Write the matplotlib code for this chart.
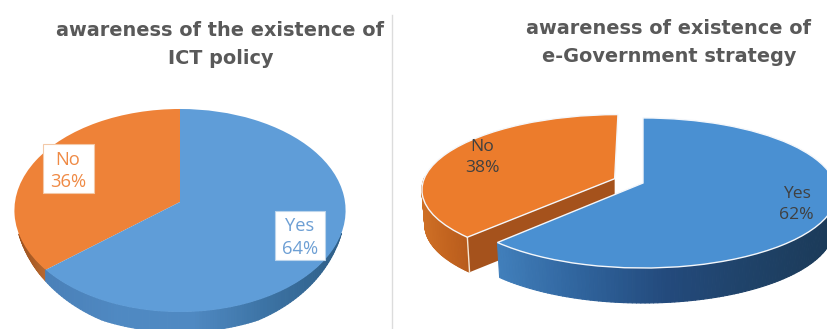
import numpy as np
import matplotlib
matplotlib.use("Agg")
import matplotlib.pyplot as plt
from matplotlib.transforms import Transform
from matplotlib.collections import PolyCollection
from matplotlib.colors import LinearSegmentedColormap
from matplotlib.lines import Line2D
from matplotlib.patches import Rectangle

categories = ["Yes", "No"]
ict_values = [64, 36]
egov_values = [62, 38]
ict_title = "awareness of the existence of\nICT policy"
egov_title = "awareness of existence of\ne-Government strategy"

plt.rcParams["font.family"] = ["Open Sans", "DejaVu Sans"]


class Tilt(Transform):
    """Projects a unit-radius pie lying on a tilted plane to pixel coordinates."""
    input_dims = 2
    output_dims = 2
    is_separable = False
    has_inverse = False

    def __init__(self, cx, cy, rx, ry, persp):
        super().__init__()
        self.p = (cx, cy, rx, ry, persp)

    def transform_non_affine(self, values):
        cx, cy, rx, ry, b = self.p
        v = np.asarray(values, float)
        w = 1 + b * v[:, 1]
        return np.column_stack([cx + rx * v[:, 0] / w, cy - ry * v[:, 1] / w])


def draw_pie(ax, values, colors, tilt, depth, shrink, taper, explode, wall_maps, z_base, cut_colors=None, edge=None):
    wedges, _ = ax.pie(values, startangle=90, counterclock=False, radius=1,
                       explode=explode, colors=colors, frame=True)
    for i, w in enumerate(wedges):
        w.set_transform(tilt + ax.transData)
        w.set_zorder(z_base[i] + 0.5)
        if edge:
            w.set_edgecolor(edge)
            w.set_linewidth(1.0)
        else:
            w.set_edgecolor("none")
        th_all = np.radians(np.linspace(w.theta1, w.theta2, 200))
        cx0, cy0 = w.center
        c = tilt.transform(np.array([[cx0, cy0]]))[0]
        ends = tilt.transform(np.column_stack([cx0 + w.r * np.cos(th_all[[0, -1]]),
                                               cy0 + w.r * np.sin(th_all[[0, -1]])]))
        th = th_all[np.sin(th_all) <= (-0.3 if taper else 0.03)]
        pts = tilt.transform(np.column_stack([cx0 + w.r * np.cos(th), cy0 + w.r * np.sin(th)]))
        scale = np.clip((-np.sin(th) - 0.3) / 0.6, 0, 1) if taper else np.ones_like(th)
        low = pts.copy()
        low[:, 1] += depth * scale
        low[:, 0] = c[0] + (pts[:, 0] - c[0]) * shrink
        x_rel = (pts[:, 0] - pts[:, 0].min()) / max(np.ptp(pts[:, 0]), 1)
        quads, cols = [], []
        cmap = wall_maps[i]
        for k in range(len(pts) - 1):
            quads.append([pts[k], pts[k + 1], low[k + 1], low[k]])
            cols.append(cmap((x_rel[k] + x_rel[k + 1]) / 2))
        ax.add_collection(PolyCollection(quads, facecolors=cols, edgecolors=cols,
                                         linewidths=0.8, zorder=z_base[i]))
        if cut_colors and cut_colors[i]:
            for end in ends:
                if end[1] > c[1] + 5:
                    ex = c[0] + (end[0] - c[0]) * shrink
                    ax.add_collection(PolyCollection(
                        [[c, end, [ex, end[1] + depth], c + [0, depth]]],
                        facecolors=[cut_colors[i]], edgecolors="none", zorder=z_base[i] + 0.1))
                    ax.add_line(Line2D([end[0], ex], [end[1], end[1] + depth],
                                       color="#f6e7d4", lw=1.0, zorder=z_base[i] + 0.2))
    return wedges


fig = plt.figure(figsize=(8.28, 3.29), dpi=100, facecolor="white")
ax = fig.add_axes([0, 0, 1, 1])

ramp = lambda *c: LinearSegmentedColormap.from_list("w", list(c))

# Left chart
draw_pie(ax, ict_values, ["#5f9dd8", "#ee8238"], Tilt(180, 202, 165, 100.8, 0.0837), 20, 1.0, True, None,
         [ramp("#4a80b8", "#4f89c2", "#4f89c2", "#3c73a4", "#2f5f88"), ramp("#9c5220", "#a95c26", "#b9682f")],
         [3, 1])

# Right chart
draw_pie(ax, egov_values, ["#4a90d2", "#ec7c2c"], Tilt(643, 183, 192, 73.7, 0.133), 35, 0.985, False, [0, 0.16],
         [ramp("#417fbb", "#2f639c", "#234a7c", "#1f4268", "#1b3a58"), ramp("#cf7026", "#c46520", "#b85c1c")],
         [3, 1], cut_colors=[None, "#a5521c"], edge="#f4f7fb")

ax.set_aspect("auto")
ax.set_xlim(0, 828)
ax.set_ylim(329, 0)
ax.axis("off")

# Panel divider
ax.add_line(Line2D([392, 392], [15, 329], color="#dcdcdc", lw=1.0, zorder=0))

# Titles
title_style = dict(ha="center", va="center", fontsize=13.9, fontweight="bold",
                   family=["DejaVu Sans"], color="#595959", zorder=10)
for (tx, ty1, ty2), ttl in zip([(220.5, 30, 58), (669, 28, 56)], [ict_title, egov_title]):
    l1, l2 = ttl.split("\n")
    ax.text(tx, ty1, l1, **title_style)
    ax.text(tx, ty2, l2, **title_style)

# Data labels
lab_l = dict(ha="center", va="center", fontsize=13.2, zorder=11)
lab_r = dict(ha="center", va="center", fontsize=12.6, zorder=11)
ax.add_patch(Rectangle((43, 144), 51, 49, fc="white", ec="#f3c9a8", lw=0.8, zorder=10))
ax.add_patch(Rectangle((275, 211), 50, 49, fc="white", ec="#bcd5ec", lw=0.8, zorder=10))
ax.text(68, 160, categories[1], color="#ef8a45", **lab_l)
ax.text(68, 182, f"{ict_values[1]}%", color="#ef8a45", **lab_l)
ax.text(300, 226, categories[0], color="#6d9fd4", **lab_l)
ax.text(300, 249, f"{ict_values[0]}%", color="#6d9fd4", **lab_l)
ax.text(482, 147, categories[1], color="#404040", **lab_r)
ax.text(482, 168, f"{egov_values[1]}%", color="#404040", **lab_r)
ax.text(797, 194, categories[0], color="#404040", **lab_r)
ax.text(796, 215, f"{egov_values[0]}%", color="#404040", **lab_r)

fig.savefig("out.png", dpi=100, facecolor="white")
